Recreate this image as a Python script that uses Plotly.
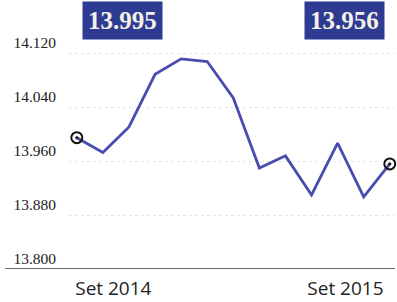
import plotly.graph_objects as go

# Data (monthly, Sep 2014 -> Sep 2015)
months = ["Set 2014", "Ott", "Nov", "Dic", "Gen 2015", "Feb", "Mar", "Apr", "Mag", "Giu", "Lug", "Ago", "Set 2015"]
values = [13995, 13973, 14011, 14089, 14112, 14108, 14054, 13950, 13968, 13910, 13987, 13907, 13956]
y_ticks = [13800, 13880, 13960, 14040, 14120]
x_tick_pos = [1.4, 10.3]
x_tick_text = ["Set 2014", "Set 2015"]

x = list(range(len(values)))

def fmt(v):
    return f"{v:,}".replace(",", ".")

fig = go.Figure()
fig.add_trace(go.Scatter(
    x=x, y=values, mode="lines",
    line=dict(color="#4a4db0", width=2.8),
    hoverinfo="skip", showlegend=False,
))
fig.add_trace(go.Scatter(
    x=[x[0], x[-1]], y=[values[0], values[-1]], mode="markers",
    marker=dict(symbol="circle-open-dot", size=11, color="#111111", line=dict(width=2, color="#111111")),
    cliponaxis=False, showlegend=False, hoverinfo="skip",
))

fig.update_layout(
    width=397, height=302,
    margin=dict(l=69, r=2, t=40, b=33),
    paper_bgcolor="white", plot_bgcolor="white",
    separators=",.",
    showlegend=False,
    xaxis=dict(
        range=[-0.3, 12.2], automargin=False,
        tickvals=x_tick_pos, ticktext=x_tick_text,
        showgrid=False, zeroline=False, showline=False, ticks="",
        ticklabelstandoff=6,
        tickfont=dict(family="Open Sans", size=19, color="#222222"),
    ),
    yaxis=dict(
        range=[13800, 14140], automargin=False,
        tickvals=y_ticks, tickformat=",d",
        showgrid=True, gridcolor="#e6e6e6", griddash="dot", gridwidth=1,
        zeroline=False, showline=False, ticks="",
        ticklabelposition="outside top", ticklabelstandoff=12,
        tickfont=dict(family="Liberation Serif", size=15.5, color="#222222"),
    ),
    shapes=[dict(type="line", xref="paper", yref="y", x0=-0.196, x1=1.0,
                 y0=13800, y1=13800, line=dict(color="#333333", width=1.5))],
    annotations=[
        dict(xref="paper", yref="paper", x=0.163, y=1.083, text="<b>" + fmt(values[0]) + "</b>",
             showarrow=False, font=dict(family="Liberation Serif", size=25, color="#f4f1e6"),
             bgcolor="#2e3b93", borderpad=5, xanchor="center", yanchor="middle"),
        dict(xref="paper", yref="paper", x=0.844, y=1.083, text="<b>" + fmt(values[-1]) + "</b>",
             showarrow=False, font=dict(family="Liberation Serif", size=25, color="#f4f1e6"),
             bgcolor="#2e3b93", borderpad=5, xanchor="center", yanchor="middle"),
    ],
)

fig.write_html("out.html", config={"displayModeBar": False},
               post_script="document.body.style.margin='0';")
